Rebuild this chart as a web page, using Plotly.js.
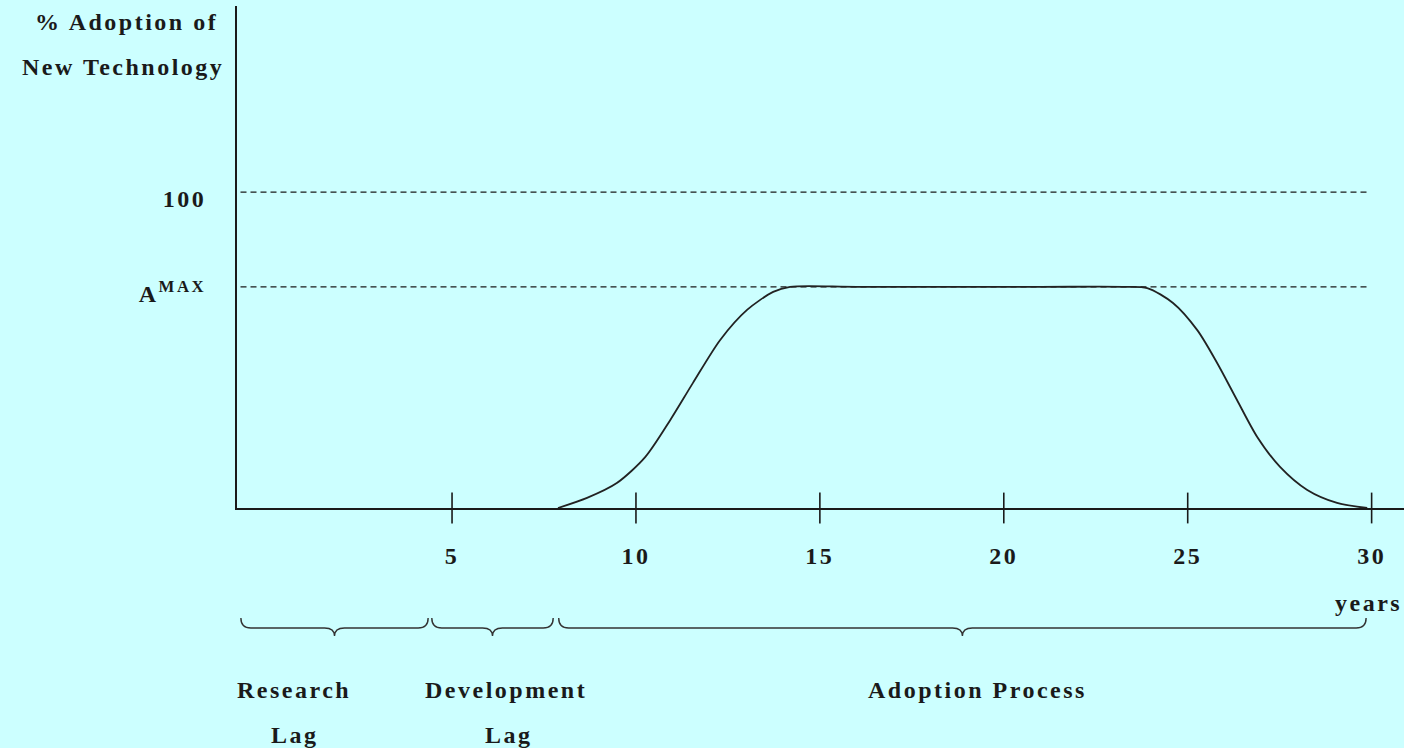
<!DOCTYPE html>
<html>
<head>
<meta charset="utf-8">
<script src="https://cdn.plot.ly/plotly-3.0.1.min.js"></script>
<style>
  html, body { margin: 0; padding: 0; background: #ccffff; }
  svg text { letter-spacing: 2.5px; }
</style>
</head>
<body>
<div id="chart" style="width:1404px;height:748px;"></div>
<script>
// ---- data ----
const tickYears = [5, 10, 15, 20, 25, 30];
const adoptionYears = [7.88, 8.67, 9.48, 10.25, 10.93, 11.55, 12.29, 13.02, 13.73, 14.19, 16, 21, 23.25, 23.9, 24.6, 25.26, 25.8, 26.34, 26.89, 27.51, 28.25, 29.06, 29.88];
const adoptionPct   = [0, 3.2, 7.9, 16.1, 27.8, 39.6, 53.2, 62.7, 68.4, 70, 70, 70, 70, 69.6, 64.9, 56.3, 45.9, 34.2, 22.5, 13.0, 5.7, 1.6, 0];
const levelValues = [100, 70];
const levelLabels = ['100', 'A<sup>MAX</sup>'];
const phaseNames = [['Research', 'Lag'], ['Development', 'Lag'], ['Adoption Process']];
const phaseStart = [-0.74, 4.45, 7.9];
const phaseEnd   = [4.35, 7.75, 29.85];

// ---- styling ----
const ink = '#1a1a1a';
const font = { family: '"Liberation Serif", "Times New Roman", serif', size: 24, color: ink, weight: 'bold' };
const tickFont = Object.assign({}, font, { size: 24 });

const traces = [
  {
    x: adoptionYears, y: adoptionPct, type: 'scatter', mode: 'lines',
    line: { color: '#222', width: 1.8, shape: 'spline', smoothing: 0.8 },
    hoverinfo: 'skip', showlegend: false
  },
  {
    x: tickYears, y: tickYears.map(() => 0), type: 'scatter', mode: 'markers',
    marker: { symbol: 'line-ns', size: 22, line: { color: ink, width: 1.6 } },
    cliponaxis: false, hoverinfo: 'skip', showlegend: false
  }
];

const shapes = levelValues.map(v => ({
  type: 'line', xref: 'paper', yref: 'y', x0: 0.003, x1: 0.969, y0: v, y1: v,
  line: { color: ink, width: 1.2, dash: '6px,4px' }, layer: 'below'
}));

// braces under each phase, in data x / paper y
const yEnd = -0.219, yBar = -0.239, yTip = -0.255, c = 0.27;
phaseStart.forEach((x0, i) => {
  const x1 = phaseEnd[i], m = (x0 + x1) / 2;
  const p = `M ${x0},${yEnd} Q ${x0},${yBar} ${x0 + c},${yBar} L ${m - c},${yBar} ` +
            `Q ${m},${yBar} ${m},${yTip} Q ${m},${yBar} ${m + c},${yBar} ` +
            `L ${x1 - c},${yBar} Q ${x1},${yBar} ${x1},${yEnd}`;
  shapes.push({ type: 'path', xref: 'x', yref: 'paper', path: p, line: { color: '#333', width: 1.4 } });
});

const ann = (text, x, y) => ({ text, x, y, xref: 'paper', yref: 'paper', xanchor: 'center', yanchor: 'middle', showarrow: false, font });
const annotations = [
  ann('% Adoption of', -0.0951, 0.969),
  ann('New Technology', -0.0981, 0.8775),
  ann('years', 0.9692, -0.190),
  ann(phaseNames[0][0], 0.0488, -0.3616),
  ann(phaseNames[0][1], 0.0497, -0.4522),
  ann(phaseNames[1][0], 0.2305, -0.3616),
  ann(phaseNames[1][1], 0.2331, -0.4522),
  ann(phaseNames[2][0], 0.6344, -0.3616)
];

const layout = {
  width: 1404, height: 748,
  margin: { l: 237, r: 0, t: 6, b: 240 },
  paper_bgcolor: '#ccffff', plot_bgcolor: '#ccffff',
  xaxis: {
    range: [-0.846, 30.88], showgrid: false, zeroline: false,
    showline: true, linecolor: ink, linewidth: 2,
    tickmode: 'array', tickvals: tickYears, ticktext: tickYears.map(String),
    ticks: '', ticklen: 0, ticklabelstandoff: 25, tickfont: tickFont, fixedrange: true
  },
  yaxis: {
    range: [0, 158.9], showgrid: false, zeroline: false,
    showline: true, linecolor: ink, linewidth: 2,
    tickmode: 'array', tickvals: levelValues, ticktext: levelLabels,
    ticks: '', ticklen: 0, ticklabelstandoff: 24, ticklabelshift: 7, tickfont: tickFont, fixedrange: true
  },
  shapes, annotations, showlegend: false
};

Plotly.newPlot('chart', traces, layout, { displayModeBar: false, staticPlot: true });
</script>
</body>
</html>
